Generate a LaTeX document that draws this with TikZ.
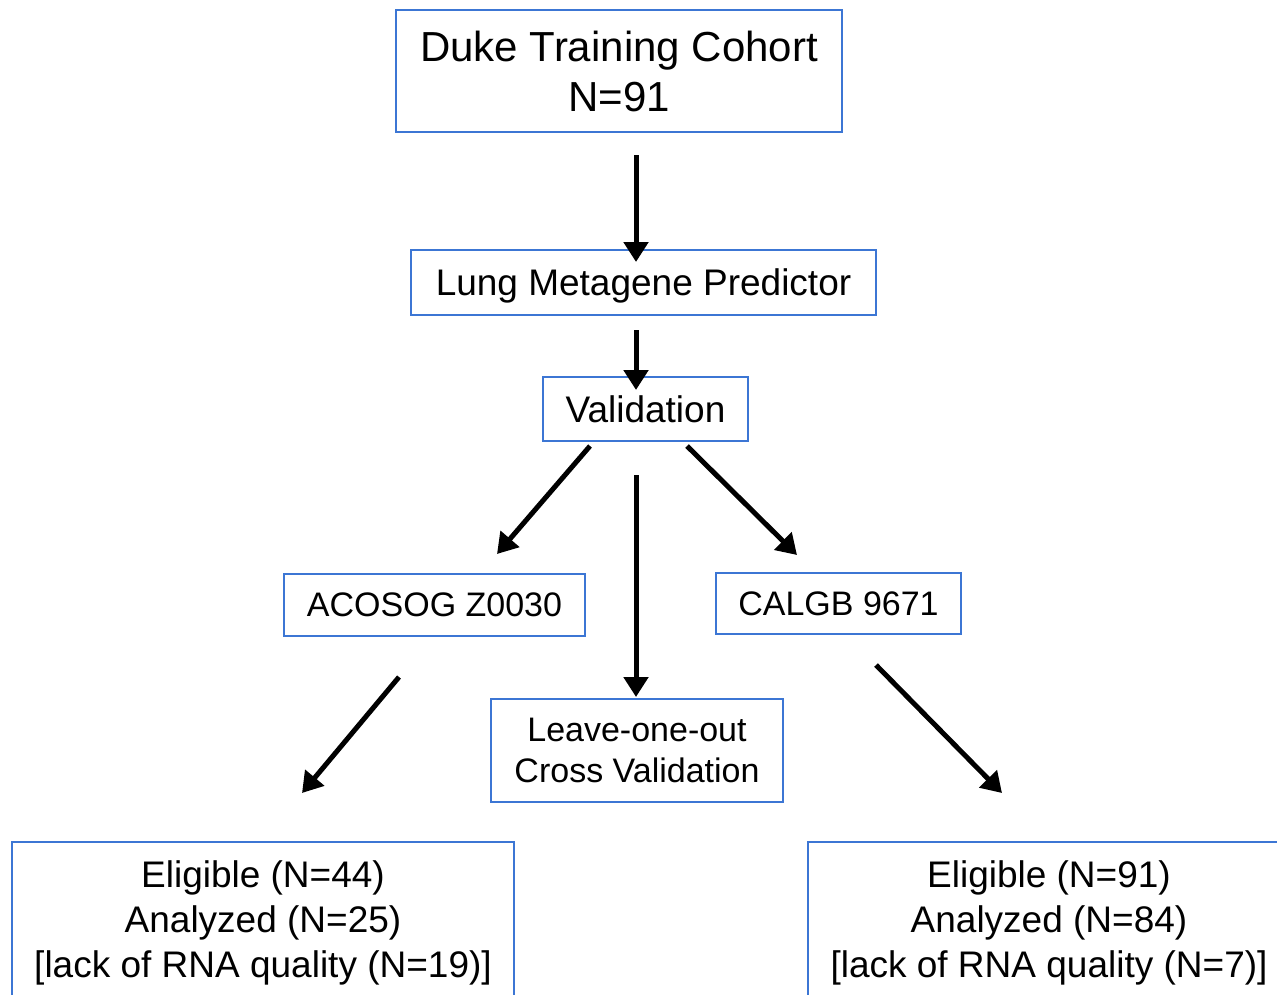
\documentclass[tikz,border=0pt]{standalone}
\usepackage{fontspec}
\setmainfont{Liberation Sans}
\usetikzlibrary{arrows.meta}
\definecolor{boxblue}{RGB}{60,118,212}

\begin{document}
\begin{tikzpicture}[x=1pt,y=-1pt,
    blockbox/.style={draw=boxblue,line width=2.5pt,align=center,inner sep=0pt},
    flowarrow/.style={line width=5pt,-{Triangle[length=20pt,width=24pt]}}]
    \useasboundingbox (0,0) rectangle (1277,994);

    % boxes
    \node [blockbox,minimum width=446pt,minimum height=122pt,
           font=\fontsize{42}{50}\selectfont] (duke) at (619,71)
    {Duke Training Cohort\\N=91};
    \node [blockbox,minimum width=465pt,minimum height=65pt,text depth=0pt,
           font=\fontsize{37}{44}\selectfont] (lung) at (643.5,282.5)
    {Lung Metagene Predictor};
    \node [blockbox,minimum width=205pt,minimum height=64pt,
           font=\fontsize{37}{44}\selectfont] (valid) at (645.5,409)
    {Validation};
    \node [blockbox,minimum width=301pt,minimum height=62pt,
           font=\fontsize{34}{41}\selectfont] (acosog) at (434.5,605)
    {ACOSOG Z0030};
    \node [blockbox,minimum width=245pt,minimum height=61pt,
           font=\fontsize{34}{41}\selectfont] (calgb) at (838.5,603.5)
    {CALGB 9671};
    \node [blockbox,minimum width=292pt,minimum height=103pt,
           font=\fontsize{34}{41}\selectfont] (loo) at (637,750.5)
    {Leave-one-out\\Cross Validation};
    \node [blockbox,minimum width=502pt,minimum height=162pt,
           font=\fontsize{37}{45}\selectfont] (acoselig) at (263,923)
    {Eligible (N=44)\\Analyzed (N=25)\\{}[lack of RNA quality (N=19)]};
    \node [blockbox,minimum width=482pt,minimum height=162pt,
           font=\fontsize{37}{45}\selectfont] (calelig) at (1049,923)
    {Eligible (N=91)\\Analyzed (N=84)\\{}[lack of RNA quality (N=7)]};

    % arrow ends
    \coordinate (dukeout) at (636,155);
    \coordinate (lungin) at (636,262);
    \coordinate (lungout) at (636,330);
    \coordinate (validin) at (636,390);
    \coordinate (validl) at (590,446);
    \coordinate (acosogin) at (497,554);
    \coordinate (validm) at (636,475);
    \coordinate (looin) at (636,697);
    \coordinate (validr) at (687,446);
    \coordinate (calgbin) at (797,555);
    \coordinate (acosogout) at (399,677);
    \coordinate (acoseligin) at (302,793);
    \coordinate (calgbout) at (876,665);
    \coordinate (caleligin) at (1002,793);

    \draw [flowarrow] (dukeout) -- (lungin);
    \draw [flowarrow] (lungout) -- (validin);
    \draw [flowarrow] (validl) -- (acosogin);
    \draw [flowarrow] (validm) -- (looin);
    \draw [flowarrow] (validr) -- (calgbin);
    \draw [flowarrow] (acosogout) -- (acoseligin);
    \draw [flowarrow] (calgbout) -- (caleligin);
\end{tikzpicture}
\end{document}
